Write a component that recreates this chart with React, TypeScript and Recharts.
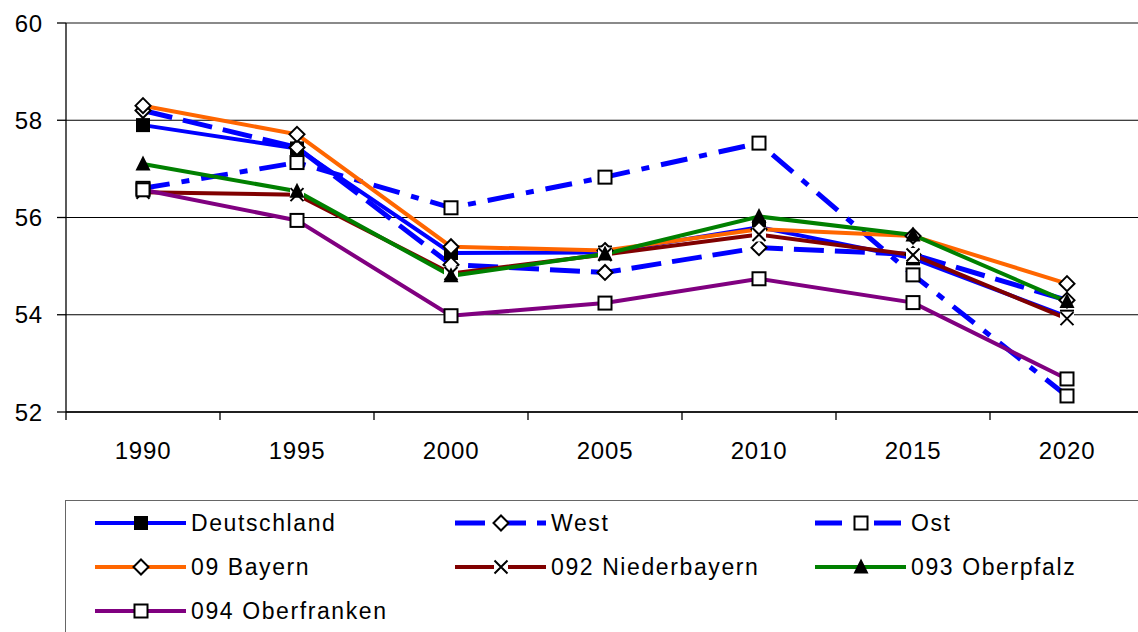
import React from "react";
import {
  LineChart,
  Line,
  XAxis,
  YAxis,
  CartesianGrid,
  ReferenceLine,
} from "recharts";

const years = ["1990", "1995", "2000", "2005", "2010", "2015", "2020"];
const deutschland = [57.9, 57.42, 55.27, 55.28, 55.8, 55.16, 53.96];
const west = [58.2, 57.44, 55.03, 54.87, 55.38, 55.24, 54.3];
const ost = [56.6, 57.13, 56.2, 56.83, 57.53, 54.82, 52.33];
const bayern = [58.3, 57.71, 55.4, 55.32, 55.76, 55.62, 54.64];
const niederbayern = [56.52, 56.47, 54.85, 55.24, 55.65, 55.23, 53.92];
const oberpfalz = [57.1, 56.54, 54.8, 55.25, 56.02, 55.64, 54.27];
const oberfranken = [56.57, 55.94, 53.98, 54.24, 54.74, 54.25, 52.68];
const yTicks = [52, 54, 56, 58, 60];

const data = years.map((y, i) => ({
  year: y,
  deutschland: deutschland[i],
  west: west[i],
  ost: ost[i],
  bayern: bayern[i],
  niederbayern: niederbayern[i],
  oberpfalz: oberpfalz[i],
  oberfranken: oberfranken[i],
}));

const series = [
  { key: "deutschland", name: "Deutschland", color: "#0000ff", dash: undefined, width: 4, marker: "sq" },
  { key: "west", name: "West", color: "#0000ff", dash: "30 11", width: 5, marker: "dia" },
  { key: "ost", name: "Ost", color: "#0000ff", dash: "27 12 8 12", width: 5, marker: "osq" },
  { key: "bayern", name: "09 Bayern", color: "#ff6600", dash: undefined, width: 4, marker: "dia" },
  { key: "niederbayern", name: "092 Niederbayern", color: "#800000", dash: undefined, width: 4, marker: "x" },
  { key: "oberpfalz", name: "093 Oberpfalz", color: "#008000", dash: undefined, width: 4, marker: "tri" },
  { key: "oberfranken", name: "094 Oberfranken", color: "#800080", dash: undefined, width: 4, marker: "osq" },
];

const FONT = "'Liberation Sans', Arial, sans-serif";
const AXIS_Y = 412;
const HALF = 77;

function Marker({ kind, x, y }: { kind: string; x: number; y: number }) {
  if (kind === "sq") return <rect x={x - 7} y={y - 7} width={14} height={14} fill="#000" />;
  if (kind === "osq")
    return <rect x={x - 6.5} y={y - 6.5} width={13} height={13} fill="#fff" stroke="#000" strokeWidth={2} />;
  if (kind === "dia")
    return (
      <path
        d={`M${x},${y - 7.5}L${x + 7.5},${y}L${x},${y + 7.5}L${x - 7.5},${y}Z`}
        fill="#fff"
        stroke="#000"
        strokeWidth={2}
      />
    );
  if (kind === "x")
    return (
      <g>
        <rect x={x - 7} y={y - 7} width={14} height={14} fill="#fff" />
        <path
          d={`M${x - 6.5},${y - 6.5}L${x + 6.5},${y + 6.5}M${x + 6.5},${y - 6.5}L${x - 6.5},${y + 6.5}`}
          stroke="#000"
          strokeWidth={2}
        />
      </g>
    );
  if (kind === "tri")
    return <path d={`M${x},${y - 8.5}L${x + 7.5},${y + 6.5}L${x - 7.5},${y + 6.5}Z`} fill="#000" />;
  return null;
}

const dotFor = (kind: string) => (p: any) => {
  if (p.cx == null || p.cy == null) return <g key={p.index} />;
  return <Marker key={p.index} kind={kind} x={p.cx} y={p.cy} />;
};

function XTick({ x, y, payload, index }: any) {
  return (
    <g>
      <line x1={x - HALF} x2={x - HALF} y1={AXIS_Y} y2={AXIS_Y + 8} stroke="#000" strokeWidth={1.3} />
      {index === years.length - 1 && (
        <line x1={x + HALF} x2={x + HALF} y1={AXIS_Y} y2={AXIS_Y + 8} stroke="#000" strokeWidth={1.3} />
      )}
      <text
        x={x}
        y={y}
        dy="0.36em"
        textAnchor="middle"
        fontSize={24}
        letterSpacing={0.8}
        fontFamily={FONT}
        fill="#000"
      >
        {payload.value}
      </text>
    </g>
  );
}

function LegendBox() {
  const cols = [95, 455, 815];
  const rows = [523, 567, 611];
  return (
    <div
      style={{
        position: "absolute",
        left: 65,
        top: 500,
        width: 1080,
        height: 160,
        border: "1.5px solid #666",
        boxSizing: "border-box",
      }}
    >
      <svg width={1080} height={160} style={{ position: "absolute", left: -1.5, top: -1.5 }}>
        {series.map((s, i) => {
          const lx = cols[i % 3] - 65;
          const ly = rows[Math.floor(i / 3)] - 500;
          return (
            <g key={s.key}>
              <line
                x1={lx}
                x2={lx + 91}
                y1={ly}
                y2={ly}
                stroke={s.color}
                strokeWidth={s.width}
                strokeDasharray={s.dash}
              />
              <Marker kind={s.marker} x={lx + 46} y={ly} />
              <text
                x={lx + 96}
                y={ly}
                dy="0.36em"
                fontSize={23}
                letterSpacing={1.6}
                fontFamily={FONT}
                fill="#000"
              >
                {s.name}
              </text>
            </g>
          );
        })}
      </svg>
    </div>
  );
}

export default function App() {
  return (
    <div
      style={{
        position: "absolute",
        left: 0,
        top: 0,
        width: 1138,
        height: 632,
        overflow: "hidden",
        background: "#fff",
      }}
    >
      <LineChart
        width={1150}
        height={632}
        data={data}
        margin={{ top: 23, right: 6, bottom: 160, left: 0 }}
      >
        <CartesianGrid vertical={false} stroke="#000" strokeWidth={1.2} />
        <ReferenceLine y={60} stroke="#8a8a8a" strokeWidth={2} />
        <XAxis
          dataKey="year"
          height={60}
          padding={{ left: HALF, right: HALF }}
          axisLine={{ stroke: "#000", strokeWidth: 1.3 }}
          tickLine={false}
          tickSize={8}
          tickMargin={30}
          tick={<XTick />}
          interval={0}
        />
        <YAxis
          width={66}
          domain={[52, 60]}
          ticks={yTicks}
          interval={0}
          axisLine={{ stroke: "#000", strokeWidth: 1.3 }}
          tickLine={{ stroke: "#000", strokeWidth: 1.3 }}
          tickSize={9}
          tickMargin={14}
          tick={{ fontSize: 24, fill: "#000", fontFamily: FONT, letterSpacing: 0.8 }}
        />
        {series.map((s) => (
          <Line
            key={s.key}
            dataKey={s.key}
            name={s.name}
            type="linear"
            stroke={s.color}
            strokeWidth={s.width}
            strokeDasharray={s.dash}
            dot={dotFor(s.marker)}
            activeDot={false}
            isAnimationActive={false}
          />
        ))}
      </LineChart>
      <LegendBox />
    </div>
  );
}
